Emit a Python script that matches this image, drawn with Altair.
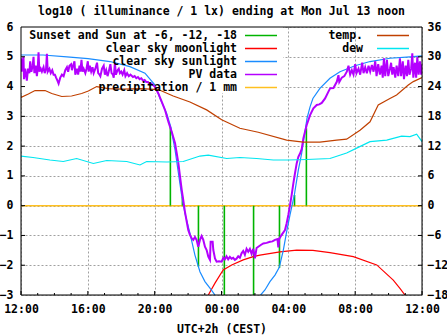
import altair as alt
import pandas as pd

FONT = "DejaVu Sans Mono"
FS = 11.5

TITLE = "log10 ( illuminance / 1 lx) ending at Mon Jul 13 noon"
X_TITLE = "UTC+2h (CEST)"

# x = hours after Sun Jul 12 12:00 (CEST)
x_tick_hours = [0, 4, 8, 12, 16, 20, 24]
x_tick_labels = ["12:00", "16:00", "20:00", "00:00", "04:00", "08:00", "12:00"]
y_left_ticks = [-3, -2, -1, 0, 1, 2, 3, 4, 5, 6]
y_right_ticks = [-18, -12, -6, 0, 6, 12, 18, 24, 30, 36]
hour_ticks = list(range(0, 25))

# Sunset and Sun at -6, -12, -18 (event markers)
event_h = [8.94, 9.66, 10.62, 12.17, 13.92, 15.47, 16.37, 17.08]
event_v = [2.65, 0.3, -2.05, -3.0, -3.0, -2.09, 0.36, 2.6]

# clear sky moonlight
moon_h = [11.21, 11.61, 12.1, 12.61, 13.3, 13.9, 14.3, 15.5, 16.5, 17.47, 18.49, 19.89, 21.29, 22.28, 22.68, 22.98]
moon_v = [-3.0, -2.6, -2.16, -1.99, -1.82, -1.71, -1.66, -1.55, -1.49, -1.5, -1.58, -1.71, -1.99, -2.5, -2.78, -3.0]

# clear sky sunlight (evening part, morning part)
sun_eve_h = [0, 1.32, 2.75, 4.01, 5.33, 6.52, 7.42, 8.02, 8.32, 8.72, 8.96, 9.22, 9.6, 9.81, 10.11, 10.41, 10.71, 11.01, 11.31, 11.61]
sun_eve_v = [5.06, 5.06, 5.0, 4.94, 4.84, 4.67, 4.45, 4.05, 3.6, 3.1, 2.65, 1.87, 0.4, -0.25, -0.92, -1.66, -2.22, -2.55, -2.77, -3.0]
sun_morn_h = [14.34, 14.6, 14.9, 15.2, 15.46, 15.7, 15.9, 16.1, 16.36, 16.6, 16.8, 17.12, 17.3, 17.47, 17.89, 18.49, 19.09, 19.99, 20.89, 22.08, 23.28, 24.0]
sun_morn_v = [-3.0, -2.83, -2.55, -2.33, -2.07, -1.49, -0.87, -0.31, 0.36, 1.2, 1.76, 2.94, 3.32, 3.6, 3.94, 4.28, 4.5, 4.7, 4.84, 4.95, 5.0, 5.03]

# PV data
pv_h = [0.00, 0.04, 0.10, 0.15, 0.18, 0.25, 0.35, 0.42, 0.50, 0.55, 0.62, 0.70, 0.75, 0.80, 0.88, 0.95,
        1.00, 1.05, 1.10, 1.18, 1.25, 1.35, 1.42, 1.50, 1.55, 1.60, 1.70, 1.78, 1.87, 1.95, 2.03, 2.10,
        2.18, 2.25, 2.35, 2.45, 2.55, 2.65, 2.75, 2.82, 2.90, 3.00, 3.05, 3.12, 3.20, 3.25, 3.35, 3.42,
        3.50, 3.55, 3.62, 3.68, 3.75, 3.85, 3.92, 4.00, 4.05, 4.12, 4.20, 4.28, 4.35, 4.45, 4.55, 4.62,
        4.70, 4.75, 4.85, 4.95, 5.02, 5.10, 5.18, 5.25, 5.35, 5.42, 5.50, 5.55, 5.62, 5.68, 5.78, 5.85,
        5.92, 6.00, 6.08, 6.18, 6.25, 6.35, 6.45, 6.55, 6.70, 6.80, 6.90, 7.00, 7.10, 7.20, 7.30, 7.40,
        7.50, 7.60, 7.70, 7.80, 8.00, 8.22, 8.42, 8.62, 8.82, 9.02, 9.22, 9.32, 9.42, 9.52, 9.62, 9.71,
        9.81, 9.92, 10.01, 10.11, 10.22, 10.31, 10.41, 10.51, 10.61, 10.71, 10.81, 10.91, 11.01, 11.11,
        11.21, 11.31, 11.35, 11.47, 11.51, 11.61, 11.71, 11.85, 12.01, 12.11, 12.2, 12.3, 12.4, 12.5,
        12.6, 12.7, 12.8, 12.9, 13.0, 13.1, 13.2, 13.3, 13.4, 13.5, 13.6, 13.7, 13.8, 13.9, 14.0, 14.1,
        14.2, 14.35, 14.5, 14.7, 14.9, 15.05, 15.2, 15.35, 15.4, 15.45, 15.6, 15.8, 15.9, 16.0, 16.1,
        16.2, 16.3, 16.4, 16.5, 16.6, 16.7, 16.8, 16.9, 17.1, 17.3, 17.5, 17.7, 17.85, 18.0, 18.2, 18.4,
        18.5, 18.7, 18.9, 19.0, 19.05, 19.2, 19.35, 19.5, 19.6, 19.7, 19.8, 19.9, 20.0, 20.08, 20.2,
        20.3, 20.42, 20.5, 20.6, 20.7, 20.8, 20.9, 21.0, 21.1, 21.2, 21.28, 21.38, 21.48, 21.58, 21.65,
        21.72, 21.8, 21.9, 21.98, 22.08, 22.15, 22.22, 22.3, 22.4, 22.48, 22.58, 22.68, 22.75, 22.85,
        22.92, 23.02, 23.1, 23.18, 23.25, 23.35, 23.42, 23.48, 23.58, 23.65, 23.72, 23.8, 23.88, 23.95, 24.0]
pv_v = [4.95, 4.5, 4.85, 5.0, 4.25, 4.6, 4.2, 4.6, 4.45, 4.85, 4.5, 4.7, 5.0, 4.45, 4.7, 4.35,
        4.6, 5.15, 4.5, 4.6, 4.5, 4.65, 4.45, 4.6, 5.1, 4.5, 4.6, 4.45, 4.55, 4.4, 4.4, 4.3,
        4.2, 4.1, 4.3, 4.4, 4.35, 4.55, 4.65, 4.5, 4.7, 4.75, 4.55, 4.7, 4.85, 4.4, 4.6, 4.4,
        4.7, 4.5, 4.9, 4.5, 4.6, 4.45, 4.6, 4.85, 4.5, 4.7, 4.5, 4.65, 4.45, 4.6, 4.8, 4.45,
        4.4, 4.35, 4.6, 4.7, 4.4, 4.55, 4.35, 4.5, 4.75, 4.45, 4.4, 4.3, 4.8, 4.4, 4.55, 4.6,
        4.45, 4.5, 4.4, 4.55, 4.35, 4.45, 4.35, 4.4, 4.32, 4.35, 4.28, 4.32, 4.25, 4.28, 4.2, 4.22,
        4.15, 4.15, 4.08, 4.1, 4.0, 3.77, 3.49, 3.21, 2.82, 2.48, 2.1, 1.76, 1.42, 0.97, 0.53, 0.19,
        -0.2, -0.54, -0.82, -0.98, -1.1, -1.15, -1.05, -1.15, -1.38, -1.15, -1.02, -1.15, -1.38, -1.49,
        -1.71, -1.82, -1.21, -1.21, -1.49, -1.77, -1.88, -1.87, -1.88, -1.75, -1.8, -1.7, -1.8, -1.72,
        -1.78, -1.75, -1.82, -1.78, -1.7, -1.75, -1.6, -1.52, -1.65, -1.45, -1.55, -1.45, -1.62, -1.45, -1.77, -1.42,
        -1.38, -1.32, -1.27, -1.25, -1.21, -1.2, -1.15, -1.12, -1.4, -1.12, -0.98, -0.82, -0.59, -0.31, 0.02,
        0.36, 0.75, 1.09, 1.42, 1.64, 1.75, 1.9, 2.26, 2.71, 3.04, 3.27, 3.38, 3.4, 3.45, 3.6, 3.83,
        3.94, 3.95, 4.16, 4.38, 4.15, 4.3, 4.35, 4.5, 4.7, 4.4, 4.55, 4.4, 4.75, 4.45, 4.6,
        4.4, 4.8, 4.45, 4.65, 4.45, 4.7, 4.5, 4.72, 4.5, 4.85, 4.35, 4.75, 4.4, 4.7, 4.3,
        4.95, 4.35, 4.9, 4.35, 4.6, 4.8, 4.4, 4.65, 4.3, 4.7, 4.35, 4.95, 4.35, 4.85,
        4.25, 4.7, 4.35, 4.9, 4.4, 4.6, 5.12, 4.3, 4.8, 4.3, 5.0, 4.4, 4.85, 4.4, 4.75]

# precipitation / 1 mm
precip_h = [0, 24]
precip_v = [0, 0]

# temp. and dew (deg C, right axis)
temp_h = [0.0, 0.44, 0.84, 1.44, 1.84, 2.44, 3.03, 3.63, 4.03, 4.53, 5.22, 6.03, 7.22, 8.22, 9.11, 10.11, 11.11,
          12.01, 13.1, 14.2, 15.9, 16.89, 17.89, 18.89, 19.49, 20.29, 20.89, 21.38, 22.08, 22.48, 23.18, 23.48, 24.0]
temp_c = [21.8, 22.5, 23.2, 23.2, 22.6, 22.0, 22.1, 22.6, 23.1, 24.0, 23.6, 23.5, 23.6, 23.4, 22.1, 20.9, 19.3,
          17.3, 15.6, 14.8, 13.2, 12.8, 12.8, 13.2, 13.4, 15.2, 16.9, 20.3, 21.6, 22.3, 24.3, 25.0, 25.8]
dew_h = [0.0, 0.72, 1.73, 2.53, 3.33, 4.33, 5.13, 6.33, 7.12, 7.52, 8.72, 9.71, 10.71, 11.21, 12.31, 13.1,
         14.1, 15.1, 16.0, 17.1, 18.49, 19.49, 20.09, 20.89, 21.89, 22.78, 23.28, 23.68, 24.0]
dew_c = [10.0, 9.7, 9.2, 8.9, 9.5, 8.5, 9.1, 8.9, 8.2, 8.9, 8.8, 8.9, 10.0, 10.2, 9.5, 9.7,
         9.5, 9.2, 9.2, 9.3, 9.5, 10.6, 11.6, 12.9, 13.2, 14.0, 13.9, 14.4, 12.9]

legend_left = ["Sunset and Sun at -6, -12, -18", "clear sky moonlight", "clear sky sunlight", "PV data", "precipitation / 1 mm"]
legend_left_colors = ["#00b400", "#ff0000", "#1a8cff", "#b400ff", "#ffc020"]
legend_right = ["temp.", "dew"]
legend_right_colors = ["#c04000", "#00e6f0"]

W, H = 401, 268

xs = alt.Scale(domain=[0, 24], nice=False, zero=False)
ls = alt.Scale(domain=[-3, 6], nice=False, zero=False)
rs = alt.Scale(domain=[-18, 36], nice=False, zero=False)

label_expr = "".join(f"datum.value=={h}?'{l}':" for h, l in zip(x_tick_hours, x_tick_labels)) + "''"

x_axis = alt.Axis(values=x_tick_hours, labelExpr=label_expr, title=X_TITLE, grid=True,
                  gridColor="#a0a0a0", gridDash=[2, 2], gridWidth=1, ticks=False, domain=False,
                  labelFont=FONT, labelFontSize=FS, labelFontWeight="bold", labelColor="black",
                  labelPadding=8, labelFlush=False,
                  titleFont=FONT, titleFontSize=FS, titleFontWeight="bold", titleColor="black",
                  titlePadding=9)
y_axis = alt.Axis(values=y_left_ticks, title=None, grid=True, gridColor="#a0a0a0", gridDash=[2, 2],
                  gridWidth=1, ticks=False, domain=False, labelFont=FONT, labelFontSize=FS,
                  labelFontWeight="bold", labelColor="black", labelPadding=8)
y2_axis = alt.Axis(values=y_right_ticks, title=None, orient="right", grid=False, ticks=False,
                   domain=False, labelFont=FONT, labelFontSize=FS, labelFontWeight="bold",
                   labelColor="black", labelPadding=5)

one = pd.DataFrame({"a": [0]})

X = alt.X("h:Q", scale=xs, axis=x_axis)
YL = alt.Y("v:Q", scale=ls, axis=y_axis)
YR = alt.Y("c:Q", scale=rs, axis=y2_axis)

precip = alt.Chart(pd.DataFrame({"h": precip_h, "v": precip_v})).mark_line(
    color=legend_left_colors[4], strokeWidth=1.5, clip=True).encode(x=X, y=YL)

cover = alt.Chart(one).mark_rect(fill="white", stroke=None).encode(
    x=alt.value(0), x2=alt.value(262), y=alt.value(0), y2=alt.value(66))

events = alt.Chart(pd.DataFrame({"h": event_h, "v": event_v, "z": [0] * len(event_h)})).mark_rule(
    color=legend_left_colors[0], strokeWidth=1.6, clip=True
).encode(x=X, y=alt.Y("z:Q", scale=ls, axis=y_axis), y2="v:Q")

moon = alt.Chart(pd.DataFrame({"h": moon_h, "v": moon_v})).mark_line(
    color=legend_left_colors[1], strokeWidth=1.2, clip=True).encode(x=X, y=YL)

sun_df = pd.DataFrame({"h": sun_eve_h + sun_morn_h, "v": sun_eve_v + sun_morn_v,
                       "seg": ["e"] * len(sun_eve_h) + ["m"] * len(sun_morn_h)})
sun = alt.Chart(sun_df).mark_line(color=legend_left_colors[2], strokeWidth=1.2, clip=True).encode(
    x=X, y=YL, detail="seg:N")

pv = alt.Chart(pd.DataFrame({"h": pv_h, "v": pv_v})).mark_line(
    color=legend_left_colors[3], strokeWidth=2, clip=True).encode(x=X, y=YL)

ticks_left = alt.Chart(pd.DataFrame({"v": y_left_ticks[1:-1]})).mark_rule(color="black").encode(
    y=YL, x=alt.value(0), x2=alt.value(4))
ticks_right = alt.Chart(pd.DataFrame({"v": y_left_ticks[1:-1]})).mark_rule(color="black").encode(
    y=YL, x=alt.value(W - 4), x2=alt.value(W))
hdf = pd.DataFrame({"h": hour_ticks, "major": [h % 4 == 0 for h in hour_ticks]})
ticks_minor = alt.Chart(hdf).transform_filter("!datum.major").mark_rule(color="black").encode(
    x=X, y=alt.value(H), y2=alt.value(H - 2))
ticks_major = alt.Chart(hdf).transform_filter("datum.major").mark_rule(color="black").encode(
    x=X, y=alt.value(H), y2=alt.value(H - 4))

left_group = alt.layer(precip, cover, events, moon, sun, pv,
                       ticks_left, ticks_right, ticks_minor, ticks_major)

temp = alt.Chart(pd.DataFrame({"h": temp_h, "c": temp_c})).mark_line(
    color=legend_right_colors[0], strokeWidth=1.2, clip=True).encode(x=X, y=YR)
dew = alt.Chart(pd.DataFrame({"h": dew_h, "c": dew_c})).mark_line(
    color=legend_right_colors[1], strokeWidth=1.2, clip=True).encode(x=X, y=YR)
right_group = alt.layer(temp, dew)

border = alt.Chart(one).mark_rect(fill=None, fillOpacity=0, stroke="black", strokeWidth=1).encode(
    x=alt.value(0), x2=alt.value(W), y=alt.value(0), y2=alt.value(H))

leg_layers = [border]
for i, (lab, col) in enumerate(zip(legend_left, legend_left_colors)):
    yy = 8.5 + 13 * i
    leg_layers.append(alt.Chart(one).mark_text(
        text=lab, align="right", baseline="middle", font=FONT, fontSize=FS, fontWeight="bold",
        color="black").encode(x=alt.value(216), y=alt.value(yy)))
    leg_layers.append(alt.Chart(one).mark_rule(color=col, strokeWidth=1.5).encode(
        x=alt.value(224), x2=alt.value(256), y=alt.value(yy)))
for i, (lab, col) in enumerate(zip(legend_right, legend_right_colors)):
    yy = 8.5 + 13 * i
    leg_layers.append(alt.Chart(one).mark_text(
        text=lab, align="right", baseline="middle", font=FONT, fontSize=FS, fontWeight="bold",
        color="black").encode(x=alt.value(342), y=alt.value(yy)))
    leg_layers.append(alt.Chart(one).mark_rule(color=col, strokeWidth=1.5).encode(
        x=alt.value(356), x2=alt.value(388), y=alt.value(yy)))
deco = alt.layer(*leg_layers)

chart = alt.layer(left_group, right_group, deco).resolve_scale(y="independent").properties(
    width=W, height=H,
    title=alt.Title(TITLE, font=FONT, fontSize=FS, fontWeight="bold", color="black",
                    anchor="middle", offset=4),
    autosize=alt.AutoSizeParams(type="none"),
    padding={"left": 21, "top": 27, "right": 25, "bottom": 40},
).configure_view(stroke=None).configure(background="white")

chart.save("out.html", embed_options={"renderer": "svg", "actions": False})
